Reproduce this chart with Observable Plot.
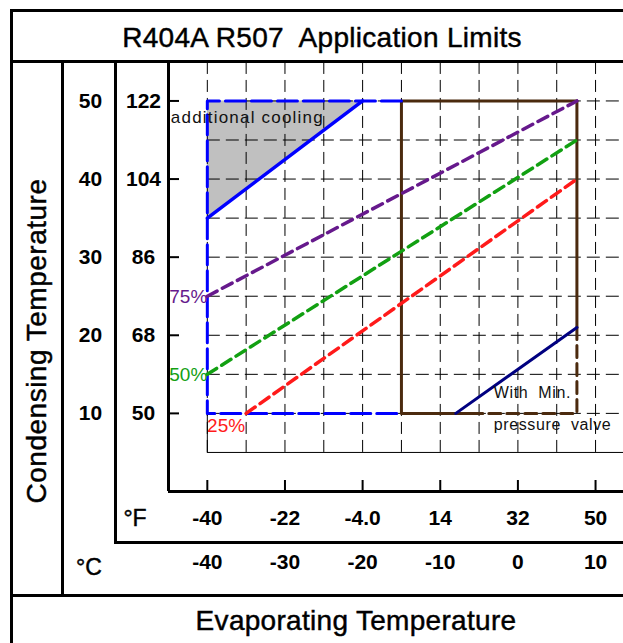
<!DOCTYPE html>
<html><head><meta charset="utf-8">
<script src="https://cdn.jsdelivr.net/npm/d3@7"></script>
<script src="https://cdn.jsdelivr.net/npm/@observablehq/plot@0.6"></script>
<style>
html,body{margin:0;padding:0;background:#fff;}
#wrap{position:relative;width:623px;height:643px;overflow:hidden;font-family:"Liberation Sans",Arial,sans-serif;}
.ln{position:absolute;background:#000;}
.t{position:absolute;white-space:pre;color:#000;line-height:1;transform:translate(-50%,-50%);-webkit-text-stroke:0.45px #000;}
#chart{position:absolute;left:0;top:0;}
svg text{white-space:pre;}
</style></head><body>
<div id="wrap">
  <div id="chart"></div>
  <div class="ln" style="left:10px;top:9px;width:700px;height:3px"></div>
  <div class="ln" style="left:10px;top:9px;width:3px;height:700px"></div>
  <div class="ln" style="left:10px;top:60px;width:700px;height:3px"></div>
  <div class="ln" style="left:61px;top:60px;width:3px;height:536px"></div>
  <div class="ln" style="left:114px;top:60px;width:3px;height:484px"></div>
  <div class="ln" style="left:114px;top:541px;width:600px;height:3px"></div>
  <div class="ln" style="left:10px;top:594px;width:700px;height:3px"></div>
  <div class="t" id="title" style="left:322px;top:38px;font-size:28px;letter-spacing:0.3px">R404A R507  Application Limits</div>
  <div class="t" id="xtitle" style="left:356px;top:621px;font-size:28px;letter-spacing:0.3px">Evaporating Temperature</div>
  <div class="t" id="ytitle" style="left:37px;top:341px;font-size:28px;letter-spacing:0.5px;transform:translate(-50%,-50%) rotate(-90deg)">Condensing Temperature</div>
  <div class="t" style="left:135px;top:518px;font-size:23px">°F</div>
  <div class="t" style="left:89px;top:567px;font-size:23px">°C</div>
</div>
<script>
// scale extents (°C)
const xMin = -45, xMax = 13.6, yMin = 0, yMax = 55.05;
// ticks
const xTicksC = [-40, -30, -20, -10, 0, 10];
const xTicksCLabels = ["-40", "-30", "-20", "-10", "0", "10"];
const xTicksFLabels = ["-40", "-22", "-4.0", "14", "32", "50"];
const yTicksC = [50, 40, 30, 20, 10];
const yTicksCLabels = ["50", "40", "30", "20", "10"];
const yTicksFLabels = ["122", "104", "86", "68", "50"];
// grid
const gridX = [-40, -35, -30, -25, -20, -15, -10, -5, 0, 5, 10];
const gridY = [10, 15, 20, 25, 30, 35, 40, 45, 50];
const gridBottom = 5, gridTop = 55.05, gridLeft = -40, gridLeftBase = 10;
// envelope (blue dashed)
const envelopeBlue = [
  {x: -15, y: 50}, {x: -40, y: 50}, {x: -40, y: 10}, {x: -15, y: 10}
];
// additional cooling zone
const coolingArea = [
  {x: -40, y1: 35, y2: 50}, {x: -20, y1: 50, y2: 50}
];
const coolingLine = [{x: -40, y: 35}, {x: -20, y: 50}];
// brown box (solid parts and dashed parts)
const brownSolid = [
  {x: -5.5, y: 10}, {x: -15, y: 10}, {x: -15, y: 50}, {x: 7.6, y: 50}, {x: 7.6, y: 21}
];
const brownDashed = [
  {x: 7.6, y: 21}, {x: 7.6, y: 10}, {x: -5.5, y: 10}
];
// min pressure valve line
const valveLine = [{x: -8, y: 10}, {x: 7.6, y: 21}];
// percentage lines
const line75 = [{x: -40, y: 25}, {x: 7.6, y: 50}];
const line50 = [{x: -40, y: 15}, {x: 7.6, y: 45}];
const line25 = [{x: -35, y: 10}, {x: 7.6, y: 40}];
// labels
const pctLabels = [
  {x: -40, y: 25, text: "75%", color: "#66198c", below: false},
  {x: -40, y: 15, text: "50%", color: "#12a012", below: false},
  {x: -35, y: 10, text: "25%", color: "#ff1a1a", below: true}
];
const noteLabels = [
  {x: -44.7, y: 47.85, text: "additional cooling", size: 17},
  {x: -3.1, y: 12.6, text: "With  Min.", size: 16},
  {x: -3.1, y: 8.5, text: "pressure  valve", size: 16}
];

const purple = "#66198c", green = "#12a012", red = "#ff1a1a", blue = "#0000ff", brown = "#4b2a0e", navy = "#000080";

const plot = Plot.plot({
  width: 623, height: 643,
  marginLeft: 168, marginTop: 61, marginRight: 0, marginBottom: 152,
  x: {domain: [xMin, xMax], label: null},
  y: {domain: [yMin, yMax], label: null},
  style: {fontFamily: "Liberation Sans, Arial, sans-serif", background: "transparent", overflow: "visible"},
  marks: [
    Plot.areaY(coolingArea, {x: "x", y1: "y1", y2: "y2", fill: "#c0c0c0"}),
    Plot.ruleX(gridX, {x: d => d, y1: gridBottom, y2: gridTop, stroke: "#000", strokeWidth: 1, strokeDasharray: "12,6"}),
    Plot.ruleY(gridY, {y: d => d, x1: gridLeft, x2: xMax, stroke: "#000", strokeWidth: 1, strokeDasharray: "13,6"}),
    Plot.ruleY([gridBottom], {y: d => d, x1: gridLeft, x2: xMax, stroke: "#000", strokeWidth: 1}),
    Plot.ruleX([gridLeft], {x: d => d, y1: gridBottom, y2: gridLeftBase, stroke: "#000", strokeWidth: 1}),
    Plot.line(brownSolid, {x: "x", y: "y", stroke: brown, strokeWidth: 3}),
    Plot.line(brownDashed, {x: "x", y: "y", stroke: brown, strokeWidth: 3, strokeDasharray: "12,6"}),
    Plot.line(envelopeBlue, {x: "x", y: "y", stroke: blue, strokeWidth: 3, strokeDasharray: "20,6"}),
    Plot.line(coolingLine, {x: "x", y: "y", stroke: blue, strokeWidth: 3.5}),
    Plot.line(valveLine, {x: "x", y: "y", stroke: navy, strokeWidth: 3}),
    Plot.line(line75, {x: "x", y: "y", stroke: purple, strokeWidth: 3.5, strokeDasharray: "11,6"}),
    Plot.line(line50, {x: "x", y: "y", stroke: green, strokeWidth: 3.5, strokeDasharray: "11,6"}),
    Plot.line(line25, {x: "x", y: "y", stroke: red, strokeWidth: 3.5, strokeDasharray: "11,6"}),
    // axis lines
    Plot.ruleX([xMin], {x: d => d, stroke: "#000", strokeWidth: 3}),
    Plot.ruleY([yMin], {y: d => d, stroke: "#000", strokeWidth: 3}),
    // inward ticks
    Plot.axisX(xTicksC, {tickSize: 11, dy: -11, tickFormat: () => "", stroke: "#000", strokeWidth: 2, label: null}),
    Plot.axisY(yTicksC, {tickSize: 11, dx: 11, tickFormat: () => "", stroke: "#000", strokeWidth: 2, label: null}),
    // tick labels
    Plot.text(xTicksC, {x: d => d, text: (d, i) => xTicksFLabels[i], frameAnchor: "bottom", dy: 33, fontSize: 21, fontWeight: "bold", fill: "#000"}),
    Plot.text(xTicksC, {x: d => d, text: (d, i) => xTicksCLabels[i], frameAnchor: "bottom", dy: 77, fontSize: 21, fontWeight: "bold", fill: "#000"}),
    Plot.text(yTicksC, {y: d => d, text: (d, i) => yTicksFLabels[i], frameAnchor: "left", dx: -25, fontSize: 21, fontWeight: "bold", fill: "#000", textAnchor: "middle"}),
    Plot.text(yTicksC, {y: d => d, text: (d, i) => yTicksCLabels[i], frameAnchor: "left", dx: -78, fontSize: 21, fontWeight: "bold", fill: "#000", textAnchor: "middle"}),
    // labels
    Plot.text(pctLabels.filter(d => !d.below), {x: "x", y: "y", text: "text", fill: d => d.color, textAnchor: "end", dx: 0, dy: 1, fontSize: 19}),
    Plot.text(pctLabels.filter(d => d.below), {x: "x", y: "y", text: "text", fill: d => d.color, textAnchor: "end", dx: -1, dy: 13, fontSize: 19}),
    Plot.text(noteLabels, {x: "x", y: "y", text: "text", textAnchor: "start", fontSize: d => d.size, fill: "#111"})
  ]
});
document.getElementById("chart").appendChild(plot);
d3.select(plot).selectAll("text").filter(function() { return this.textContent === "additional cooling"; })
  .attr("letter-spacing", "1.2");
d3.select(plot).selectAll("text").filter(function() { return this.textContent === "With  Min." || this.textContent === "pressure  valve"; })
  .attr("letter-spacing", "0.6");
</script>
</body></html>
